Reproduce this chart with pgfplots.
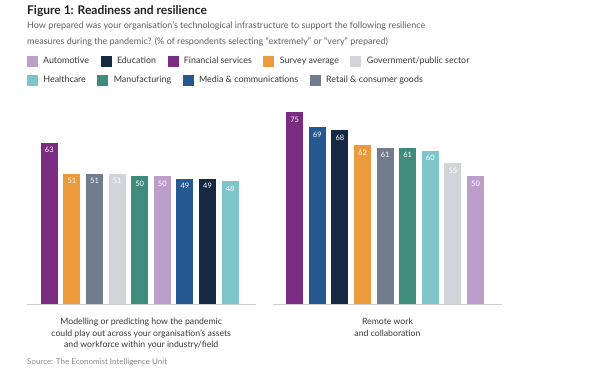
\documentclass[border=0pt]{standalone}
\usepackage{fontspec}
\setmainfont{Lato}
\usepackage{pgfplots}
\pgfplotsset{compat=1.18}
\definecolor{autoC}{RGB}{189,158,203}
\definecolor{eduC}{RGB}{22,41,66}
\definecolor{finC}{RGB}{122,44,128}
\definecolor{survC}{RGB}{236,155,60}
\definecolor{govC}{RGB}{210,212,218}
\definecolor{healthC}{RGB}{125,196,203}
\definecolor{manuC}{RGB}{64,140,124}
\definecolor{mediaC}{RGB}{38,88,146}
\definecolor{retailC}{RGB}{113,124,140}
\definecolor{baseC}{RGB}{205,205,205}
\definecolor{titleC}{RGB}{30,30,30}
\definecolor{subC}{RGB}{95,95,95}
\definecolor{labC}{RGB}{55,55,55}
\definecolor{srcC}{RGB}{140,140,140}
\newcommand{\bb}[3]{\addplot[fill=#1, draw=none, forget plot, /pgf/bar shift=0pt] coordinates {(#2,#3)};}
\newcommand{\legsq}[2]{\addlegendimage{legend image code/.code={\fill[#1] (0pt,-5pt) rectangle (10pt,5pt);}}\addlegendentry{#2}}
\pgfplotsset{
  panel/.style={
    scale only axis, width=229pt, height=205pt,
    ymin=0, ymax=80,
    axis y line=none, axis x line*=bottom,
    x axis line style={draw=baseC, line width=0.8pt, -},
    xtick=\empty, ytick=\empty,
    /pgf/number format/assume math mode=true,
    ybar, bar width=17pt, /pgf/bar shift=0pt,
    nodes near coords, nodes near coords align={below},
    every node near coord/.append style={font=\fontsize{7.5}{8}\selectfont, text=white, yshift=-1pt},
    clip=false,
    xlabel style={at={(axis description cs:0.5,0)}, anchor=north, yshift=-10.5pt, align=center,
      font=\fontsize{8.7}{11.3}\selectfont, text=labC},
    legend columns=-1,
    legend style={draw=none, fill=none, inner sep=0pt, outer sep=0pt,
      font=\fontsize{8.9}{10}\selectfont, text=labC,
      nodes={inner sep=0pt},
      /tikz/every odd column/.append style={column sep=6pt},
      /tikz/every even column/.append style={column sep=11.5pt}},
  }
}
\begin{document}
\begin{tikzpicture}
\useasboundingbox (0,0) rectangle (600pt,378pt);
\node[anchor=west, inner sep=0pt, font=\fontsize{12}{14}\selectfont\bfseries, text=titleC] at (27pt,367pt) {Figure 1: Readiness and resilience};
\node[anchor=west, inner sep=0pt, font=\fontsize{9}{10}\selectfont, text=subC] at (27pt,352pt) {How prepared was your organisation's technological infrastructure to support the following resilience};
\node[anchor=west, inner sep=0pt, font=\fontsize{9}{10}\selectfont, text=subC] at (27pt,336.5pt) {measures during the pandemic? (\% of respondents selecting ``extremely'' or ``very'' prepared)};
\begin{axis}[panel, at={(26.7pt,73.7pt)}, anchor=south west, xmin=-1, xmax=9.13,
  xlabel={Modelling or predicting how the pandemic\\could play out across your organisation's assets\\and workforce within your industry/field},
  legend style={at={(axis description cs:0,1.187)}, anchor=west}]
\bb{finC}{0}{63}
\bb{survC}{1}{51}
\bb{retailC}{2}{51}
\bb{govC}{3}{51}
\bb{manuC}{4}{50}
\bb{autoC}{5}{50}
\bb{mediaC}{6}{49}
\bb{eduC}{7}{49}
\bb{healthC}{8}{48}
\legsq{autoC}{Automotive}
\legsq{eduC}{Education}
\legsq{finC}{Financial services}
\legsq{survC}{Survey average}
\legsq{govC}{Government/public sector}
\end{axis}
\begin{axis}[panel, at={(273pt,73.7pt)}, anchor=south west, xmin=-0.96, xmax=9.17,
  xlabel={Remote work\\and collaboration},
  legend style={at={(axis description cs:-1.074,1.094)}, anchor=west}]
\bb{finC}{0}{75}
\bb{mediaC}{1}{69}
\bb{eduC}{2}{68}
\bb{survC}{3}{62}
\bb{retailC}{4}{61}
\bb{manuC}{5}{61}
\bb{healthC}{6}{60}
\bb{govC}{7}{55}
\bb{autoC}{8}{50}
\legsq{healthC}{Healthcare}
\legsq{manuC}{Manufacturing}
\legsq{mediaC}{Media \& communications}
\legsq{retailC}{Retail \& consumer goods}
\end{axis}
\node[anchor=west, inner sep=0pt, font=\fontsize{8}{9}\selectfont, text=srcC] at (27pt,16pt) {Source: The Economist Intelligence Unit};
\end{tikzpicture}
\end{document}
